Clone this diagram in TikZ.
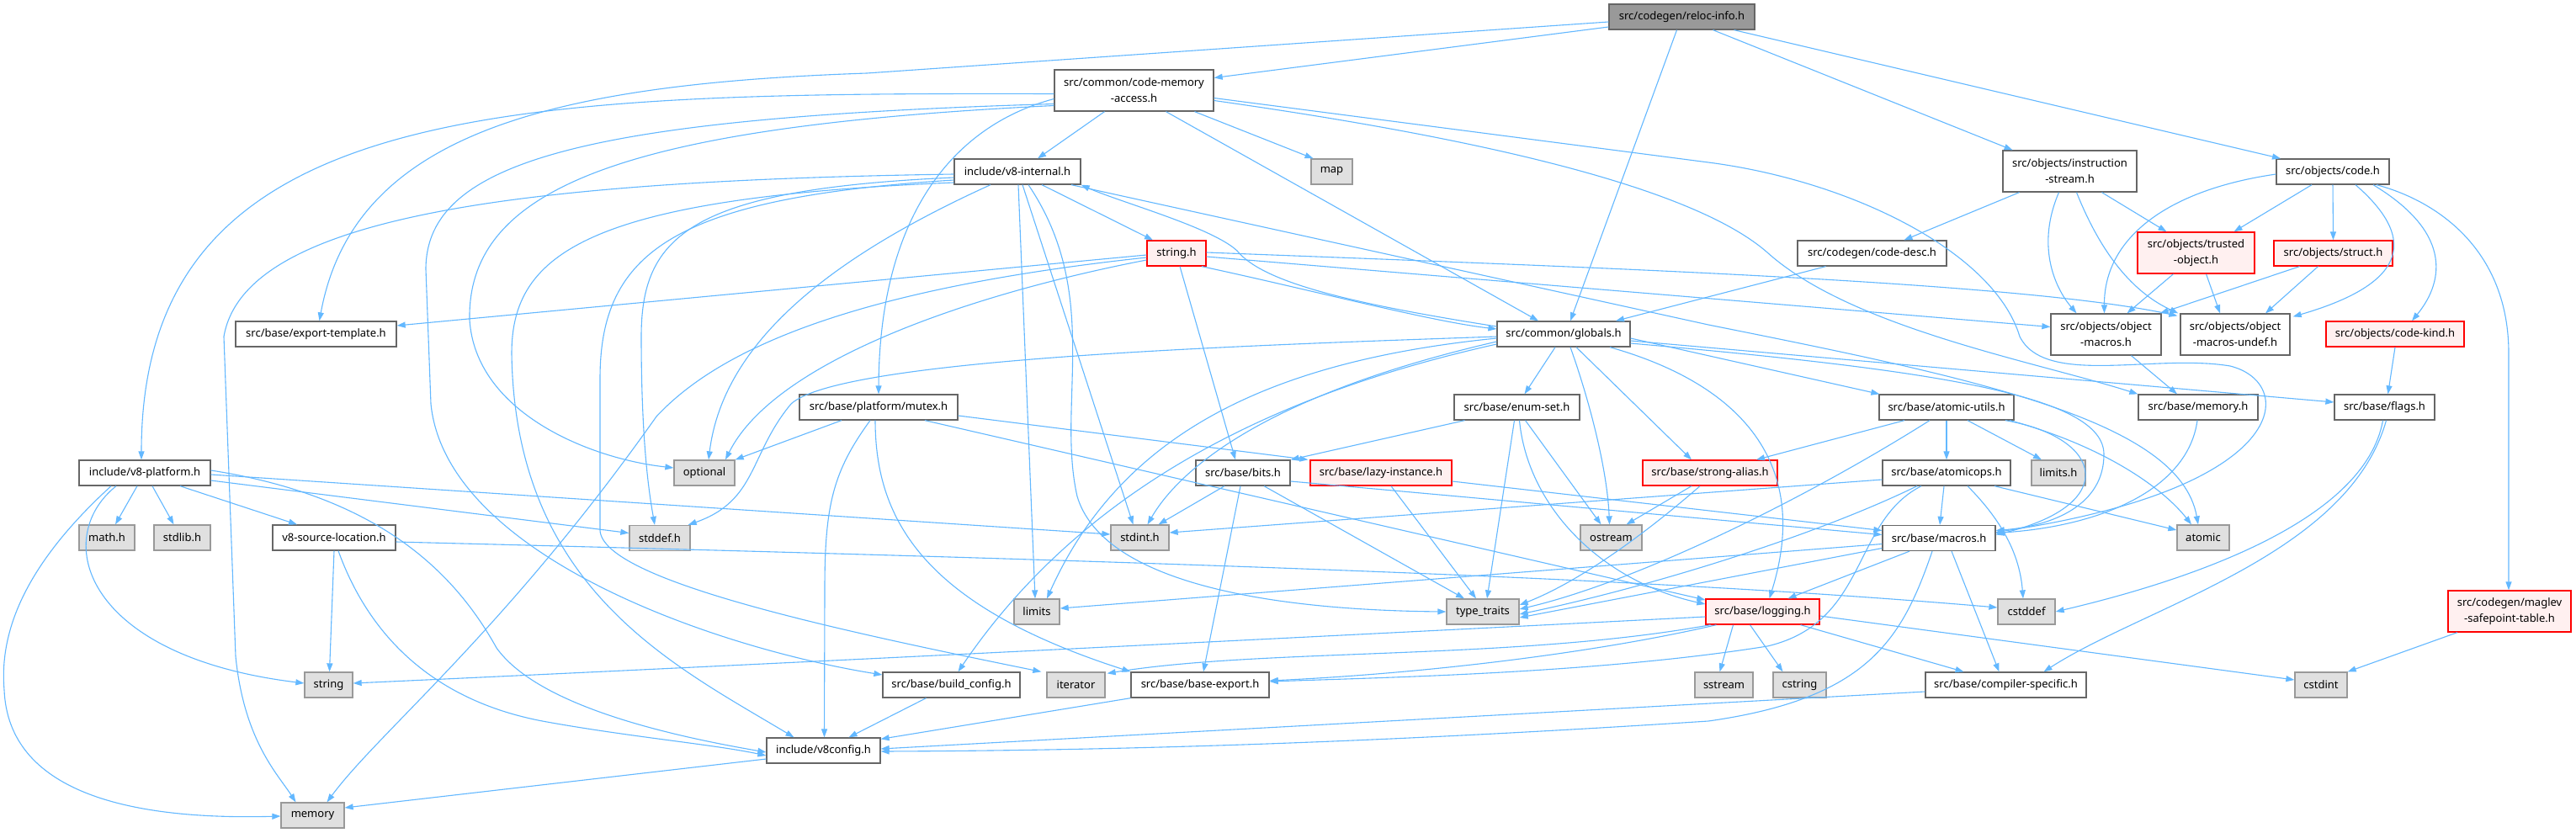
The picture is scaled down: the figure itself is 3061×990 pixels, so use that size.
\documentclass[tikz,border=0pt]{standalone}
\usepackage{fontspec}
\setmainfont{Noto Sans}
\usetikzlibrary{arrows.meta}
\definecolor{edgeblue}{HTML}{63B8FF}
\definecolor{boxgray}{HTML}{666666}
\definecolor{sysgray}{HTML}{999999}
\definecolor{sysfill}{HTML}{E0E0E0}
\definecolor{truncred}{HTML}{FF0000}
\definecolor{truncfill}{HTML}{FFF0F0}
\definecolor{rootfill}{HTML}{999999}
\tikzset{
 box/.style={draw=boxgray, fill=white, line width=1.3pt, inner sep=0pt, minimum height=30pt, text=black, font=\fontsize{13}{19}\selectfont, align=center},
 sys/.style={box, draw=sysgray, fill=sysfill},
 trunc/.style={box, draw=truncred, fill=truncfill},
 rootbox/.style={box, fill=rootfill},
 two/.style={minimum height=49pt},
 edge/.style={draw=edgeblue, line width=1.1pt, -{Triangle[length=10pt,width=7pt]}},
}
\begin{document}
\begin{tikzpicture}[x=1pt,y=-1pt]
\fill[white] (0,0) rectangle (3061,990);
\useasboundingbox (0,0) rectangle (3061,990);
% nodes
\node[rootbox, minimum width=173pt] (R) at (1998.5,20) {src/codegen/reloc-info.h};
\node[box, two, minimum width=189pt] (cma) at (1347.5,107.5) {src/common/code-memory\\-access.h};
\node[box, minimum width=150pt] (v8int) at (1209,204) {include/v8-internal.h};
\node[sys, minimum width=49pt] (map) at (1582.5,204) {map};
\node[trunc, minimum width=70pt] (stringh) at (1398,301) {string.h};
\node[box, minimum width=191pt] (exptmpl) at (375.5,397) {src/base/export-template.h};
\node[box, minimum width=158pt] (globals) at (1858,397) {src/common/globals.h};
\node[box, two, minimum width=159pt] (instr) at (2459.5,203.5) {src/objects/instruction\\-stream.h};
\node[box, minimum width=134pt] (code) at (2772,204) {src/objects/code.h};
\node[box, minimum width=177pt] (codedesc) at (2224.5,301) {src/codegen/code-desc.h};
\node[trunc, two, minimum width=139pt] (trusted) at (2609.5,300.5) {src/objects/trusted\\-object.h};
\node[trunc, minimum width=141pt] (struct) at (2772.5,301) {src/objects/struct.h};
\node[box, two, minimum width=131pt] (objmacros) at (2502.5,397.5) {src/objects/object\\-macros.h};
\node[box, two, minimum width=130pt] (objundef) at (2656,397.5) {src/objects/object\\-macros-undef.h};
\node[trunc, minimum width=164pt] (codekind) at (2846,397) {src/objects/code-kind.h};
\node[box, minimum width=188pt] (mutex) at (1044,484) {src/base/platform/mutex.h};
\node[box, minimum width=149pt] (enumset) at (1802.5,484) {src/base/enum-set.h};
\node[box, minimum width=160pt] (atomicutils) at (2313,484) {src/base/atomic-utils.h};
\node[box, minimum width=142pt] (memoryh) at (2612,484) {src/base/memory.h};
\node[box, minimum width=119pt] (flags) at (2833.5,484) {src/base/flags.h};
\node[box, minimum width=156pt] (v8plat) at (172,562) {include/v8-platform.h};
\node[sys, minimum width=72pt] (optional) at (837,562) {optional};
\node[box, minimum width=112pt] (bits) at (1477,562) {src/base/bits.h};
\node[trunc, minimum width=168pt] (lazy) at (1641,562) {src/base/lazy-instance.h};
\node[trunc, minimum width=160pt] (strongalias) at (2032,562) {src/base/strong-alias.h};
\node[box, minimum width=152pt] (atomicops) at (2313,562) {src/base/atomicops.h};
\node[sys, minimum width=64pt] (limitsh) at (2446,562) {limits.h};
\node[sys, minimum width=66pt] (math) at (127,639) {math.h};
\node[sys, minimum width=67pt] (stdlib) at (216.5,639) {stdlib.h};
\node[box, minimum width=146pt] (v8srcloc) at (397,639) {v8-source-location.h};
\node[sys, minimum width=72pt] (stddefh) at (784,639.5) {stddef.h};
\node[sys, minimum width=69pt] (stdinth) at (1354.5,639) {stdint.h};
\node[sys, minimum width=73pt] (ostream) at (1914.5,639) {ostream};
\node[box, minimum width=134pt] (macros) at (2304,639.5) {src/base/macros.h};
\node[sys, minimum width=62pt] (atomic) at (2618,639) {atomic};
\node[sys, minimum width=54pt] (limits) at (1232,727) {limits};
\node[sys, minimum width=86pt] (typetraits) at (1762,727) {type\_traits};
\node[trunc, minimum width=135pt] (logging) at (2094.5,727) {src/base/logging.h};
\node[sys, minimum width=68pt] (cstddef) at (2408,727) {cstddef};
\node[trunc, two, minimum width=146pt] (maglev) at (2982,726.5) {src/codegen/maglev\\-safepoint-table.h};
\node[sys, minimum width=57pt] (string) at (390.5,814) {string};
\node[box, minimum width=163pt] (buildcfg) at (1130.5,814) {src/base/build\_config.h};
\node[sys, minimum width=69pt] (iterator) at (1278.5,814) {iterator};
\node[box, minimum width=164pt] (baseexport) at (1426,814) {src/base/base-export.h};
\node[sys, minimum width=69pt] (sstream) at (2048.5,814) {sstream};
\node[sys, minimum width=63pt] (cstring) at (2138.5,814) {cstring};
\node[box, minimum width=191pt] (compspec) at (2383.5,814) {src/base/compiler-specific.h};
\node[sys, minimum width=62pt] (cstdint) at (2758,814) {cstdint};
\node[box, minimum width=135pt] (v8config) at (978.5,892) {include/v8config.h};
\node[sys, minimum width=75pt] (memory) at (371.5,969) {memory};
% edges: reloc-info
\draw[edge] ([yshift=-12pt]R.west) -- ([yshift=15pt]cma.east);
\draw[edge] ([yshift=-6pt]R.west) -- (1030,87) .. controls (650,100) and (420,160) .. ([xshift=4pt]exptmpl.north);
\draw[edge] ([xshift=-6pt]R.south) -- ([xshift=8pt]globals.north);
\draw[edge] ([xshift=37pt]R.south) -- ([xshift=-68pt]instr.north);
\draw[edge] ([xshift=62pt]R.south) -- ([xshift=-62pt]code.north);
% code-memory-access
\draw[edge] ([xshift=-35pt]cma.south) -- ([xshift=24pt]v8int.north);
\draw[edge] ([xshift=72pt]cma.south) -- ([xshift=-22pt]map.north);
\draw[edge] ([xshift=38pt]cma.south) -- ([xshift=-30pt]globals.north);
\draw[edge] ([yshift=-10pt]cma.west) .. controls (1130,150) and (1045,260) .. (mutex.north);
\draw[edge] ([yshift=-4pt]cma.west) .. controls (600,110) and (168,120) .. ([xshift=-4pt]v8plat.north);
\draw[edge] ([yshift=-18pt]cma.west) .. controls (750,150) and (555,220) .. (558,380) .. controls (565,490) and (700,545) .. ([yshift=6pt]optional.west);
\draw[edge] ([yshift=-16pt]cma.west) .. controls (700,140) and (506,190) .. (506,320) -- (512,480) .. controls (530,660) and (850,770) .. ([yshift=12pt]buildcfg.west);
\draw[edge] ([yshift=-9pt]cma.east) -- (2030,193) .. controls (2200,215) and (2370,300) .. (2400,400) .. controls (2430,460) and (2560,420) .. (2650,435) .. controls (2730,455) and (2725,580) .. ([yshift=7pt]macros.east);
\draw[edge] ([yshift=-12pt]cma.east) .. controls (1800,170) and (2020,230) .. (2100,300) .. controls (2200,390) and (2420,430) .. (memoryh.north west);
% v8-internal
\draw[edge] ([yshift=-7pt]v8int.west) .. controls (820,225) and (762,280) .. (762,400) .. controls (762,530) and (772,590) .. ([xshift=-6pt]stddefh.north);
\draw[edge] ([xshift=6pt]v8int.south) -- ([xshift=-8pt]stdinth.north);
\draw[edge] ([xshift=29pt]v8int.south) -- ([xshift=-28pt]stringh.north);
\draw[edge] ([xshift=64pt]v8int.south) -- (2030,386) .. controls (2350,450) and (2590,500) .. ([xshift=-6pt]atomic.north);
\draw[edge] ([yshift=-10pt]v8int.west) .. controls (800,235) and (713,300) .. (713,450) -- (713,630) .. controls (715,690) and (1000,750) .. ([xshift=-6pt]iterator.north west);
\draw[edge] ([xshift=1pt]v8int.south) -- ([xshift=-2pt]limits.north);
\draw[edge] ([yshift=-3pt]v8int.west) .. controls (600,215) and (290,260) .. (266,400) -- (280,780) .. controls (290,880) and (330,920) .. ([xshift=-20pt]memory.north);
\draw[edge] ([xshift=-32pt]v8int.south) .. controls (1000,300) and (860,400) .. ([xshift=5pt]optional.north);
\draw[edge] ([xshift=13pt]v8int.south) .. controls (1310,350) and (1255,480) .. (1280,590) .. controls (1310,690) and (1500,725) .. (typetraits.west);
\draw[edge] ([yshift=-13pt]v8int.west) .. controls (700,235) and (608,300) .. (608,420) .. controls (612,700) and (800,790) .. ([xshift=-35pt]v8config.north);
% string.h
\draw[edge] ([xshift=30pt]stringh.south) .. controls (1560,345) and (1700,382) .. ([yshift=6pt]globals.west);
\draw[edge] ([yshift=-2pt]stringh.west) -- ([yshift=10pt]exptmpl.east);
\draw[edge] ([yshift=-5pt]stringh.west) .. controls (1000,345) and (850,420) .. (780,495) .. controls (600,750) and (450,870) .. ([xshift=17pt]memory.north);
\draw[edge] ([yshift=-8pt]stringh.west) .. controls (1150,350) and (920,430) .. ([xshift=25pt]optional.north);
\draw[edge] ([yshift=-4pt]stringh.east) -- ([yshift=9pt]objmacros.west);
\draw[edge] ([yshift=1pt]stringh.east) .. controls (1900,318) and (2400,335) .. ([xshift=-3pt,yshift=-3pt]objundef.north west);
\draw[edge] ([xshift=4pt]stringh.south) -- ([xshift=-9pt]bits.north);
% globals
\draw[edge] ([yshift=9pt]globals.west) .. controls (1600,360) and (1500,335) .. (1470,298) .. controls (1440,270) and (1330,240) .. (v8int.south east);
\draw[edge] ([xshift=-10pt]globals.south) -- ([xshift=9pt]enumset.north);
\draw[edge] ([xshift=8pt]globals.south) .. controls (1890,480) and (1910,560) .. ([xshift=-2pt]ostream.north);
\draw[edge] ([xshift=15pt]globals.south) -- ([xshift=-22pt]strongalias.north);
\draw[edge] ([xshift=55pt]globals.south) .. controls (2080,460) and (2150,560) .. ([xshift=8pt]logging.north);
\draw[edge] ([yshift=-5pt]globals.east) -- ([xshift=1pt]atomicutils.north west);
\draw[edge] ([yshift=-8pt]globals.east) -- ([yshift=6pt]flags.west);
\draw[edge] ([yshift=-11pt]globals.east) .. controls (2300,440) and (2500,470) .. (2500,540) .. controls (2500,600) and (2440,625) .. ([yshift=9pt]macros.east);
\draw[edge] ([yshift=-3pt]globals.west) .. controls (1500,410) and (1000,425) .. (940,480) .. controls (890,540) and (900,595) .. ([xshift=-3pt]stddefh.north east);
\draw[edge] ([yshift=-9pt]globals.west) .. controls (1500,470) and (1400,560) .. ([xshift=9pt]stdinth.north);
\draw[edge] ([yshift=-5pt]globals.west) .. controls (1500,430) and (1330,520) .. ([xshift=12pt]limits.north);
\draw[edge] ([yshift=-12pt]globals.west) .. controls (1550,460) and (1300,560) .. ([xshift=8pt]buildcfg.north);
% logging
\draw[edge] ([yshift=-6pt]logging.west) .. controls (1500,760) and (900,790) .. ([yshift=2pt]string.east);
\draw[edge] ([xshift=-35pt]logging.south) -- ([xshift=-5pt]sstream.north);
\draw[edge] ([xshift=-15pt]logging.south) -- ([xshift=-20pt]cstring.north);
\draw[edge] ([xshift=45pt]logging.south) -- ([xshift=-50pt]compspec.north);
\draw[edge] ([yshift=-5pt]logging.east) -- ([yshift=6pt]cstdint.west);
\draw[edge] ([xshift=-55pt]logging.south) .. controls (1900,775) and (1700,800) .. ([yshift=5pt]baseexport.east);
\draw[edge] ([xshift=-62pt]logging.south) .. controls (1800,785) and (1500,770) .. ([xshift=2pt,yshift=-2pt]iterator.north east);
% enum-set
\draw[edge] ([xshift=-62pt]enumset.south) -- (bits.north east);
\draw[edge] ([xshift=-3pt]enumset.south) -- ([xshift=5pt]typetraits.north);
\draw[edge] ([xshift=3pt]enumset.south) .. controls (1815,600) and (1900,690) .. ([yshift=9pt]logging.west);
\draw[edge] ([xshift=10pt]enumset.south) -- ([xshift=-12pt]ostream.north);
% strong-alias
\draw[edge] ([xshift=-22pt]strongalias.south) -- ([xshift=18pt]ostream.north);
\draw[edge] ([xshift=-12pt]strongalias.south) .. controls (1960,630) and (1880,690) .. ([yshift=8pt]typetraits.east);
% atomic-utils
\draw[edge] ([xshift=-50pt]atomicutils.south) -- ([xshift=55pt]strongalias.north);
\draw[edge] ([xshift=-20pt]atomicutils.south) .. controls (2150,590) and (1950,690) .. ([yshift=3pt]typetraits.east);
\draw[edge] (atomicutils.south) -- (atomicops.north);
\draw[edge] ([xshift=25pt]atomicutils.south) -- ([xshift=-20pt]limitsh.north);
\draw[edge] ([xshift=70pt]atomicutils.south) .. controls (2500,520) and (2520,600) .. ([yshift=4pt]macros.east);
\draw[edge] ([xshift=75pt]atomicutils.south) .. controls (2500,530) and (2570,580) .. ([xshift=-14pt]atomic.north);
% atomicops
\draw[edge] ([yshift=-8pt]atomicops.west) -- ([yshift=6pt]stdinth.east);
\draw[edge] ([xshift=57pt]atomicops.south) -- ([yshift=9pt]atomic.west);
\draw[edge] ([xshift=-3pt]atomicops.south) -- ([xshift=1pt]macros.north);
\draw[edge] ([xshift=25pt]atomicops.south) .. controls (2380,620) and (2400,660) .. ([xshift=-4pt]cstddef.north);
\draw[edge] ([xshift=-30pt]atomicops.south) .. controls (2200,620) and (2220,740) .. (2100,768) .. controls (1900,800) and (1650,805) .. ([yshift=4pt]baseexport.east);
\draw[edge] ([xshift=-35pt]atomicops.south) .. controls (2150,640) and (1950,700) .. ([yshift=-3pt]typetraits.east);
% macros
\draw[edge] ([yshift=-7pt]macros.west) -- ([yshift=4pt]limits.east);
\draw[edge] ([yshift=-12pt]macros.west) -- ([yshift=-7pt]typetraits.east);
\draw[edge] ([xshift=-8pt]macros.south) .. controls (2260,760) and (2220,830) .. (2030,857) .. controls (1600,885) and (1300,892) .. ([yshift=-1pt]v8config.east);
\draw[edge] ([xshift=15pt]macros.south) -- ([xshift=-8pt]compspec.north);
\draw[edge] ([xshift=-35pt]macros.south) -- ([xshift=30pt]logging.north);
% bits
\draw[edge] ([xshift=-22pt]bits.south) -- ([xshift=22pt]stdinth.north);
\draw[edge] ([xshift=25pt]bits.south) -- ([xshift=-22pt]typetraits.north);
\draw[edge] ([xshift=-3pt]bits.south) -- ([xshift=4pt]baseexport.north);
\draw[edge] ([yshift=-10pt]bits.east) -- ([yshift=4pt]macros.west);
% lazy-instance
\draw[edge] ([xshift=12pt]lazy.south) -- ([xshift=-8pt]typetraits.north);
\draw[edge] ([yshift=-10pt]lazy.east) -- ([yshift=9pt]macros.west);
% mutex
\draw[edge] ([xshift=-44pt]mutex.south) -- (optional.north east);
\draw[edge] ([xshift=-10pt]mutex.south) .. controls (990,560) and (980,600) .. (980,700) -- ([xshift=1pt]v8config.north);
\draw[edge] ([xshift=-4pt]mutex.south) .. controls (1040,620) and (1100,720) .. (baseexport.north west);
\draw[edge] ([xshift=55pt]mutex.south) -- ([yshift=14pt]logging.west);
\draw[edge] ([yshift=-10pt]mutex.east) -- ([xshift=-2pt]lazy.north west);
% memory.h, flags, compiler-specific, build_config, base-export, v8config
\draw[edge] ([xshift=-1pt]memoryh.south) .. controls (2600,580) and (2500,625) .. ([yshift=6pt]macros.east);
\draw[edge] ([xshift=-2pt]flags.south) .. controls (2810,620) and (2600,690) .. (cstddef.east);
\draw[edge] ([xshift=2pt]flags.south) .. controls (2790,660) and (2550,720) .. ([xshift=45pt]compspec.north);
\draw[edge] ([yshift=-8pt]compspec.west) -- ([yshift=2pt]v8config.east);
\draw[edge] ([xshift=-30pt]buildcfg.south) -- ([xshift=30pt]v8config.north);
\draw[edge] (baseexport.south west) -- ([yshift=-2pt]v8config.north east);
\draw[edge] ([yshift=-10pt]v8config.west) -- ([yshift=9pt]memory.east);
% instruction-stream
\draw[edge] ([xshift=-60pt]instr.south) -- ([xshift=38pt]codedesc.north);
\draw[edge] ([xshift=-13pt]instr.south) .. controls (2420,290) and (2440,340) .. ([xshift=-35pt]objmacros.north);
\draw[edge] ([xshift=8pt]instr.south) .. controls (2500,310) and (2540,350) .. ([xshift=-2pt]objundef.north west);
\draw[edge] ([xshift=38pt]instr.south) -- ([xshift=-35pt]trusted.north);
\draw[edge] ([xshift=-55pt]codedesc.south) -- ([xshift=62pt]globals.north);
% code.h
\draw[edge] ([yshift=-3pt]code.west) .. controls (2580,225) and (2500,280) .. ([xshift=-2pt]objmacros.north);
\draw[edge] ([xshift=-25pt]code.south) -- ([xshift=45pt]trusted.north);
\draw[edge] (code.south) -- (struct.north);
\draw[edge] ([xshift=27pt]code.south) .. controls (2880,290) and (2850,340) .. ([xshift=3pt,yshift=-4pt]objundef.north east);
\draw[edge] ([xshift=48pt]code.south) .. controls (2920,280) and (2900,340) .. ([xshift=20pt]codekind.north);
\draw[edge] ([xshift=52pt]code.south) .. controls (2900,240) and (2981,300) .. (2981,420) -- ([xshift=-1pt]maglev.north);
\draw[edge] ([xshift=-27pt]trusted.south) -- ([xshift=25pt]objmacros.north);
\draw[edge] ([xshift=12pt]trusted.south) -- ([xshift=-18pt]objundef.north);
\draw[edge] ([xshift=-40pt]struct.south) -- ([xshift=-2pt]objmacros.north east);
\draw[edge] ([xshift=-18pt]struct.south) -- ([xshift=36pt]objundef.north);
\draw[edge] (codekind.south) -- ([xshift=4pt]flags.north);
\draw[edge] ([xshift=-62pt]maglev.south) -- (cstdint.north east);
\draw[edge] ([xshift=30pt]objmacros.south) -- ([xshift=-25pt]memoryh.north);
% v8-platform
\draw[edge] ([xshift=-9pt]v8plat.south) -- ([xshift=10pt]math.north);
\draw[edge] ([xshift=9pt]v8plat.south) -- ([xshift=-10pt]stdlib.north);
\draw[edge] ([xshift=42pt]v8plat.south) -- ([xshift=-44pt]v8srcloc.north);
\draw[edge] ([yshift=-9pt]v8plat.east) -- ([yshift=6pt]stddefh.west);
\draw[edge] ([yshift=-2pt]v8plat.east) -- ([yshift=4pt]stdinth.west);
\draw[edge] ([xshift=-34pt]v8plat.south) .. controls (60,640) and (100,780) .. ([yshift=2pt]string.west);
\draw[edge] ([xshift=-40pt]v8plat.south) .. controls (20,680) and (0,760) .. (5,820) .. controls (10,940) and (150,975) .. ([yshift=-1pt]memory.west);
\draw[edge] ([yshift=3pt]v8plat.east) .. controls (450,590) and (540,680) .. (590,770) .. controls (640,840) and (800,875) .. ([yshift=-2pt]v8config.west);
% v8-source-location
\draw[edge] (v8srcloc.south) -- ([xshift=1pt]string.north);
\draw[edge] ([xshift=5pt]v8srcloc.south) .. controls (440,760) and (520,835) .. (650,858) .. controls (750,876) and (850,885) .. ([yshift=-6pt]v8config.west);
\draw[edge] ([yshift=-5pt]v8srcloc.east) .. controls (1500,670) and (2000,690) .. ([yshift=5pt]cstddef.west);
\end{tikzpicture}
\end{document}
